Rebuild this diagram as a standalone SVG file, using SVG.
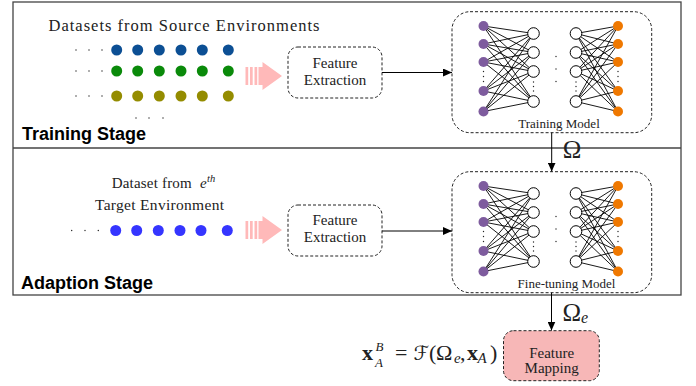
<svg xmlns="http://www.w3.org/2000/svg" xmlns:xlink="http://www.w3.org/1999/xlink" width="696" height="386" viewBox="0 0 696 386">
<style>
.frame{fill:none;stroke:#444;stroke-width:1.3}
.dash{fill:#fff;stroke:#222;stroke-width:1;stroke-dasharray:3 2}
.serif{font-family:"Liberation Serif","Times New Roman",serif;fill:#222}
.stage{font-family:"Liberation Sans",Arial,sans-serif;font-weight:bold;font-size:18px;fill:#000}
.conn{fill:none;stroke:#000;stroke-width:1}
.edge{fill:none;stroke:#000;stroke-width:0.9}
.pu{fill:#7e5c9e}
.or{fill:#ef7800}
.hid{fill:#fff;stroke:#000;stroke-width:1}
.sd{fill:#222}
.b1{fill:#0c4f94}.g1{fill:#0a8a0a}.o1{fill:#948c00}.b2{fill:#3535ff}
</style>
<defs>
<marker id="ah" markerUnits="userSpaceOnUse" markerWidth="9" markerHeight="8" refX="9" refY="4" orient="auto">
<path d="M0,0 L9,4 L0,8 z" fill="#000"/>
</marker>
<g id="pink" fill="#ffb9b9">
<rect x="0" y="-9" width="2.7" height="18"/>
<rect x="4.5" y="-9" width="2.7" height="18"/>
<rect x="9" y="-9" width="2.7" height="18"/>
<path d="M13,-9 L17,-9 L17,-14 L36.5,0 L17,14 L17,9 L13,9 Z"/>
</g>
<g id="nn">
<path class="edge" d="M483.5 26L533.5 33.5M483.5 26L533.5 52.5M483.5 26L533.5 71.5M483.5 26L533.5 101.5M483.5 44L533.5 33.5M483.5 44L533.5 52.5M483.5 44L533.5 71.5M483.5 44L533.5 101.5M483.5 62L533.5 33.5M483.5 62L533.5 52.5M483.5 62L533.5 71.5M483.5 62L533.5 101.5M483.5 91L533.5 33.5M483.5 91L533.5 52.5M483.5 91L533.5 71.5M483.5 91L533.5 101.5M483.5 111.5L533.5 33.5M483.5 111.5L533.5 52.5M483.5 111.5L533.5 71.5M483.5 111.5L533.5 101.5"/>
<path class="edge" d="M576 33.5L618 26M576 33.5L618 44M576 33.5L618 62M576 33.5L618 91M576 33.5L618 111.5M576 52.5L618 26M576 52.5L618 44M576 52.5L618 62M576 52.5L618 91M576 52.5L618 111.5M576 71.5L618 26M576 71.5L618 44M576 71.5L618 62M576 71.5L618 91M576 71.5L618 111.5M576 101.5L618 26M576 101.5L618 44M576 101.5L618 62M576 101.5L618 91M576 101.5L618 111.5"/>
<circle class="pu" cx="483.5" cy="26" r="5"/><circle class="pu" cx="483.5" cy="44" r="5"/><circle class="pu" cx="483.5" cy="62" r="5"/><circle class="pu" cx="483.5" cy="91" r="5"/><circle class="pu" cx="483.5" cy="111.5" r="5"/>
<circle class="hid" cx="533.5" cy="33.5" r="5.8"/><circle class="hid" cx="533.5" cy="52.5" r="5.8"/><circle class="hid" cx="533.5" cy="71.5" r="5.8"/><circle class="hid" cx="533.5" cy="101.5" r="5.8"/>
<circle class="hid" cx="576" cy="33.5" r="5.8"/><circle class="hid" cx="576" cy="52.5" r="5.8"/><circle class="hid" cx="576" cy="71.5" r="5.8"/><circle class="hid" cx="576" cy="101.5" r="5.8"/>
<circle class="or" cx="618" cy="26" r="5"/><circle class="or" cx="618" cy="44" r="5"/><circle class="or" cx="618" cy="62" r="5"/><circle class="or" cx="618" cy="91" r="5"/><circle class="or" cx="618" cy="111.5" r="5"/>
<circle class="sd" cx="483.5" cy="71.5" r="0.7"/><circle class="sd" cx="483.5" cy="76.5" r="0.7"/><circle class="sd" cx="483.5" cy="81.5" r="0.7"/>
<circle class="sd" cx="618" cy="71.5" r="0.7"/><circle class="sd" cx="618" cy="76.5" r="0.7"/><circle class="sd" cx="618" cy="81.5" r="0.7"/>
<circle class="sd" cx="533.5" cy="82" r="0.7"/><circle class="sd" cx="533.5" cy="86.5" r="0.7"/><circle class="sd" cx="533.5" cy="91" r="0.7"/>
<circle class="sd" cx="576" cy="82" r="0.7"/><circle class="sd" cx="576" cy="86.5" r="0.7"/><circle class="sd" cx="576" cy="91" r="0.7"/>
<circle class="sd" cx="556" cy="56.5" r="0.7"/><circle class="sd" cx="556" cy="69" r="0.7"/><circle class="sd" cx="556" cy="81.5" r="0.7"/>
</g>
</defs>

<g id="frames">
<rect class="frame" x="13" y="2" width="668" height="293"/>
<line class="frame" x1="13" y1="148" x2="681" y2="148"/>
<text class="stage" x="22" y="140">Training Stage</text>
<text class="stage" x="21" y="289">Adaption Stage</text>
</g>

<g id="source-data">
<text class="serif" x="48.5" y="30.5" font-size="16.5" textLength="271" lengthAdjust="spacing">Datasets from Source Environments</text>
<g class="b1"><circle cx="116.7" cy="50" r="5.5"/><circle cx="137.7" cy="50" r="5.5"/><circle cx="159.3" cy="50" r="5.5"/><circle cx="181" cy="50" r="5.5"/><circle cx="202.3" cy="50" r="5.5"/><circle cx="228.3" cy="50" r="5.5"/></g>
<g class="g1"><circle cx="116.7" cy="71" r="5.5"/><circle cx="137.7" cy="71" r="5.5"/><circle cx="159.3" cy="71" r="5.5"/><circle cx="181" cy="71" r="5.5"/><circle cx="202.3" cy="71" r="5.5"/><circle cx="228.3" cy="71" r="5.5"/></g>
<g class="o1"><circle cx="116.7" cy="96" r="5.5"/><circle cx="137.7" cy="96" r="5.5"/><circle cx="159.3" cy="96" r="5.5"/><circle cx="181" cy="96" r="5.5"/><circle cx="202.3" cy="96" r="5.5"/><circle cx="228.3" cy="96" r="5.5"/></g>
<g class="sd">
<circle cx="76" cy="50" r="0.7"/><circle cx="89" cy="50" r="0.7"/><circle cx="102" cy="50" r="0.7"/>
<circle cx="76" cy="71" r="0.7"/><circle cx="89" cy="71" r="0.7"/><circle cx="102" cy="71" r="0.7"/>
<circle cx="76" cy="96" r="0.7"/><circle cx="89" cy="96" r="0.7"/><circle cx="102" cy="96" r="0.7"/>
<circle cx="136" cy="118" r="0.7"/><circle cx="149" cy="118" r="0.7"/><circle cx="163" cy="118" r="0.7"/>
</g>
<use xlink:href="#pink" href="#pink" x="245.5" y="76"/>
</g>

<g id="target-data">
<text class="serif" font-size="15"><tspan x="111.7" y="188.3" textLength="80" lengthAdjust="spacing">Dataset from</tspan><tspan x="200" y="188.3" font-style="italic">e</tspan><tspan x="207" y="181.5" font-size="10.5" font-style="italic">th</tspan></text>
<text class="serif" x="95" y="209.5" font-size="15.5" textLength="129" lengthAdjust="spacing">Target Environment</text>
<g class="b2"><circle cx="115.7" cy="230.5" r="5.5"/><circle cx="136.7" cy="230.5" r="5.5"/><circle cx="158.3" cy="230.5" r="5.5"/><circle cx="180" cy="230.5" r="5.5"/><circle cx="201" cy="230.5" r="5.5"/><circle cx="227.3" cy="230.5" r="5.5"/></g>
<g class="sd"><circle cx="71.7" cy="230.5" r="0.7"/><circle cx="85" cy="230.5" r="0.7"/><circle cx="98.3" cy="230.5" r="0.7"/></g>
<use xlink:href="#pink" href="#pink" x="245.5" y="230"/>
</g>

<g id="feature-extraction-1">
<rect class="dash" x="288" y="47" width="94" height="51" rx="10"/>
<text class="serif" x="335" y="67.5" font-size="15" text-anchor="middle">Feature</text>
<text class="serif" x="335" y="85" font-size="15" text-anchor="middle">Extraction</text>
</g>

<g id="feature-extraction-2">
<rect class="dash" x="288" y="205" width="94" height="51" rx="10"/>
<text class="serif" x="335" y="224.5" font-size="15" text-anchor="middle">Feature</text>
<text class="serif" x="335" y="242" font-size="15" text-anchor="middle">Extraction</text>
</g>

<g id="training-model">
<rect class="dash" x="452" y="11.7" width="199.7" height="121" rx="18"/>
<use xlink:href="#nn" href="#nn"/>
<text class="serif" x="559" y="128" font-size="13" text-anchor="middle">Training Model</text>
</g>

<g id="finetuning-model">
<rect class="dash" x="452" y="171.7" width="199.7" height="121" rx="18"/>
<use xlink:href="#nn" href="#nn" y="160"/>
<text class="serif" x="566.5" y="287.5" font-size="13" text-anchor="middle">Fine-tuning Model</text>
</g>

<g id="feature-mapping">
<rect x="503.5" y="330.7" width="95.8" height="50" rx="10" fill="#f7b7b7" stroke="#222" stroke-width="1" stroke-dasharray="3 2"/>
<text class="serif" x="551.7" y="358.3" font-size="15" text-anchor="middle">Feature</text>
<text class="serif" x="551.7" y="373" font-size="15" text-anchor="middle">Mapping</text>
</g>

<g id="formula">
<text class="serif" font-size="22" fill="#000"><tspan x="362" y="359.5" font-weight="bold">x</tspan><tspan x="395" y="359.5">=</tspan><tspan x="413.5" y="359.5" font-family="'DejaVu Serif','DejaVu Sans',serif" font-style="italic" font-size="20">ℱ</tspan><tspan x="429" y="359.5">(</tspan><tspan x="436" y="359.5">Ω</tspan><tspan x="454" y="362.5" font-size="15" font-style="italic">e</tspan><tspan x="460" y="359.5">,</tspan><tspan x="467" y="359.5" font-weight="bold">x</tspan><tspan x="477.5" y="362.5" font-size="15" font-style="italic">A</tspan><tspan x="490" y="359.5">)</tspan></text>
<text class="serif" font-style="italic" font-size="13" fill="#000"><tspan x="375.5" y="351">B</tspan><tspan x="375" y="366.5">A</tspan></text>
</g>

<g id="connectors">
<line class="conn" x1="382" y1="72.5" x2="452" y2="72.5" marker-end="url(#ah)"/>
<line class="conn" x1="382" y1="231" x2="452" y2="231" marker-end="url(#ah)"/>
<line class="conn" x1="551.7" y1="132.7" x2="551.7" y2="171.5" marker-end="url(#ah)"/>
<line class="conn" x1="551.5" y1="292.7" x2="551.5" y2="330.5" marker-end="url(#ah)"/>
<text class="serif" x="572" y="157.5" font-size="25" text-anchor="middle" fill="#000">Ω</text>
<text class="serif" x="562.5" y="320.7" font-size="25" fill="#000">Ω<tspan font-size="16" font-style="italic" dy="2.6">e</tspan></text>
</g>
</svg>
